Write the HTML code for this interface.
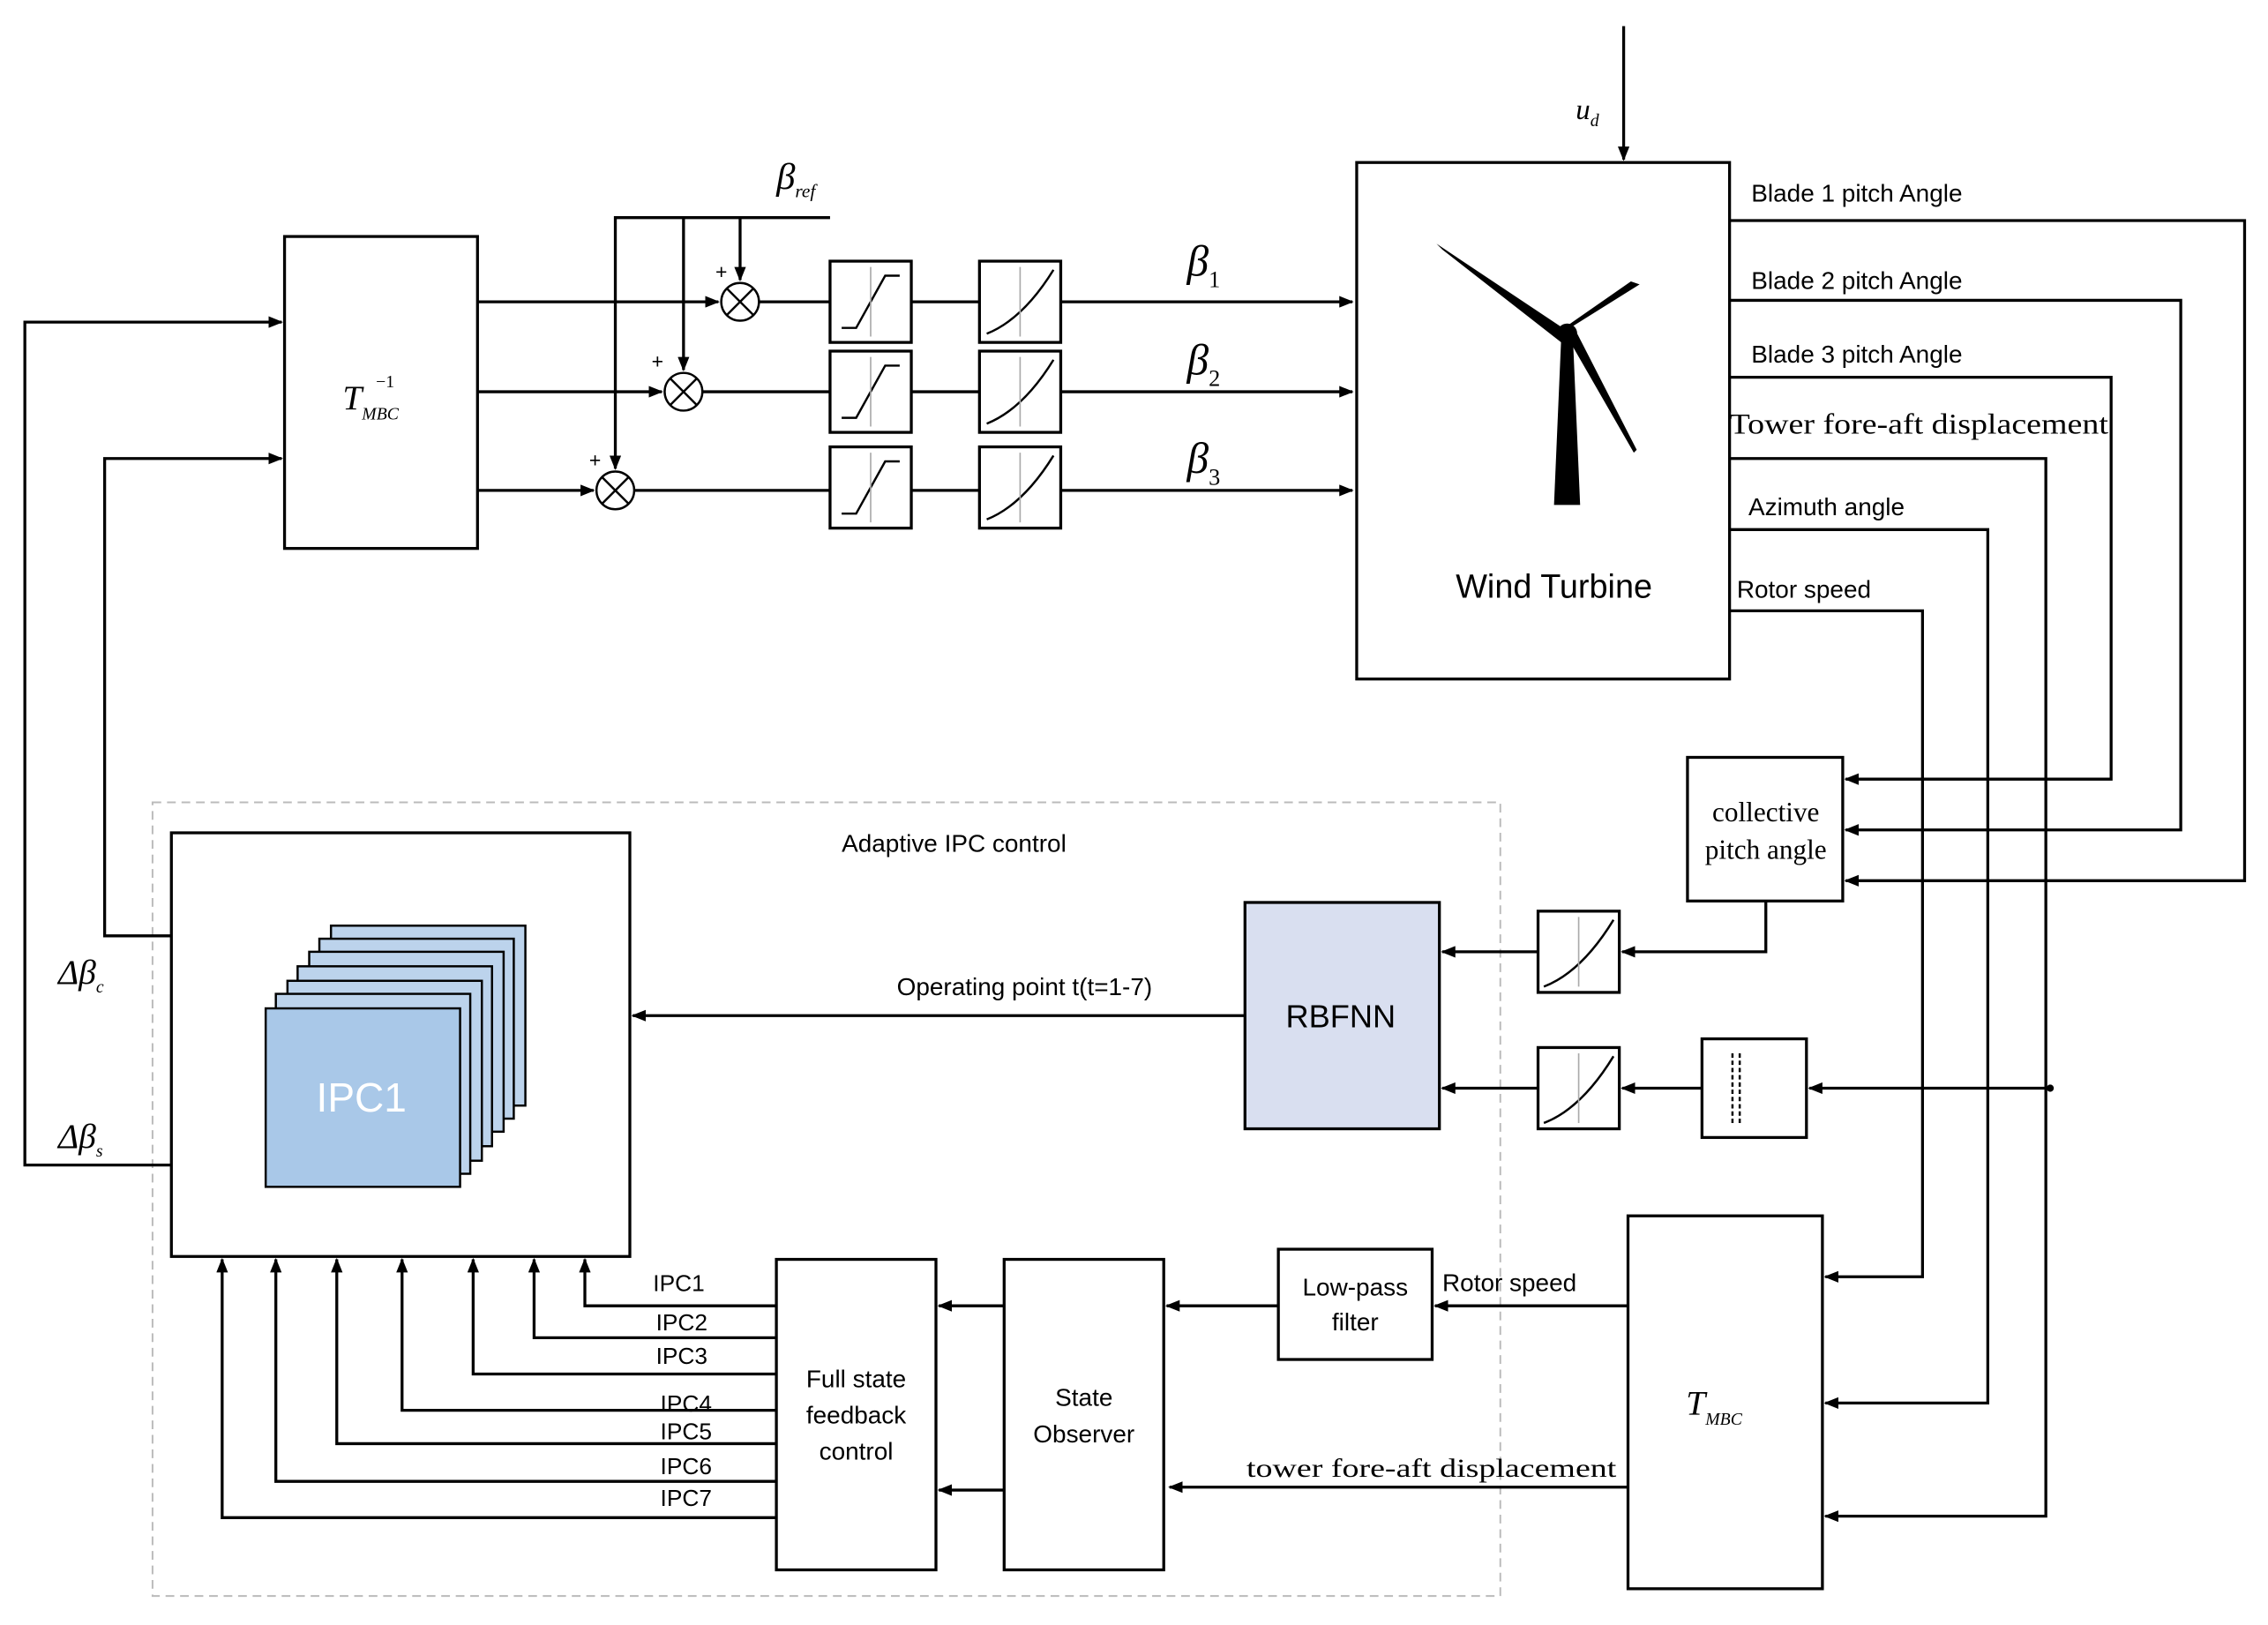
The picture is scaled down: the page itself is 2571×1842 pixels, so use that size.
<!DOCTYPE html>
<html><head><meta charset="utf-8"><style>html,body{margin:0;padding:0;background:#fff}svg{display:block}</style></head><body>
<svg width="2571" height="1842" viewBox="0 0 1563 1120" xmlns="http://www.w3.org/2000/svg" font-family="Liberation Sans, sans-serif">
<defs><marker id="a" markerWidth="10" markerHeight="8" refX="9" refY="4" orient="auto" markerUnits="userSpaceOnUse"><path d="M0,0 L10,4 L0,8 z" fill="#000"/></marker></defs>
<g fill="none" stroke="#000" stroke-width="2">
<rect x="935" y="112" width="257" height="356"/>
<rect x="196" y="163" width="133" height="215"/>
<rect x="1163" y="522" width="107" height="99"/>
<rect x="858" y="622" width="134" height="156" fill="#d9dff0"/>
<rect x="118" y="574" width="316" height="292"/>
<rect x="1122" y="838" width="134" height="257"/>
<rect x="881" y="861" width="106" height="76"/>
<rect x="692" y="868" width="110" height="214"/>
<rect x="535" y="868" width="110" height="214"/>
<rect x="1060" y="628" width="56" height="56"/>
<rect x="1060" y="722" width="56" height="56"/>
<rect x="1173" y="716" width="72" height="68"/>
<rect x="572" y="180" width="56" height="56"/><rect x="572" y="242" width="56" height="56"/><rect x="572" y="308" width="56" height="56"/>
<rect x="675" y="180" width="56" height="56"/><rect x="675" y="242" width="56" height="56"/><rect x="675" y="308" width="56" height="56"/>
</g>
<rect x="105" y="553" width="929" height="547" fill="none" stroke="#bbb" stroke-width="1.2" stroke-dasharray="6,4"/>
<g fill="none" stroke="#000" stroke-width="1.5">
<path d="M580,226 H590 L610,190 H620 M580,288 H590 L610,252 H620 M580,354 H590 L610,318 H620"/>
<path d="M680,230 Q705,220 726,186 M680,292 Q705,282 726,248 M680,358 Q705,348 726,314"/>
<path d="M1064,680 Q1090,670 1112,634 M1064,774 Q1090,764 1112,728"/>
<path d="M1194,726 V774 M1199,726 V774" stroke-dasharray="3,2"/>
</g>
<g stroke="#aaa" stroke-width="1"><path d="M600,184 V232 M600,246 V294 M600,312 V360 M703,184 V232 M703,246 V294 M703,312 V360 M1088,632 V680 M1088,726 V774"/></g>
<g fill="none" stroke="#000" stroke-width="2">
<path d="M1119,18 V110" marker-end="url(#a)"/>
<path d="M1192,152 H1547 V607 H1272" marker-end="url(#a)"/>
<path d="M1192,207 H1503 V572 H1272" marker-end="url(#a)"/>
<path d="M1192,260 H1455 V537 H1272" marker-end="url(#a)"/>
<path d="M1192,316 H1410 V1045 H1258" marker-end="url(#a)"/>
<path d="M1192,365 H1370 V967 H1258" marker-end="url(#a)"/>
<path d="M1192,421 H1325 V880 H1258" marker-end="url(#a)"/>
<path d="M1217,621 V656 H1118" marker-end="url(#a)"/>
<path d="M1060,656 H994" marker-end="url(#a)"/>
<path d="M1413,750 H1247" marker-end="url(#a)"/>
<path d="M1173,750 H1118" marker-end="url(#a)"/>
<path d="M1060,750 H994" marker-end="url(#a)"/>
<path d="M858,700 H436" marker-end="url(#a)"/>
<path d="M118,645 H72 V316 H194" marker-end="url(#a)"/>
<path d="M118,803 H17 V222 H194" marker-end="url(#a)"/>
<path d="M329,208 H495" marker-end="url(#a)"/>
<path d="M329,270 H456" marker-end="url(#a)"/>
<path d="M329,338 H409" marker-end="url(#a)"/>
<path d="M572,150 H424 V323" marker-end="url(#a)"/>
<path d="M471,150 V255" marker-end="url(#a)"/>
<path d="M510,150 V193" marker-end="url(#a)"/>
<path d="M523,208 H572 M484,270 H572 M437,338 H572 M628,208 H675 M628,270 H675 M628,338 H675"/>
<path d="M731,208 H932" marker-end="url(#a)"/>
<path d="M731,270 H932" marker-end="url(#a)"/>
<path d="M731,338 H932" marker-end="url(#a)"/>
<path d="M1122,900 H989" marker-end="url(#a)"/>
<path d="M881,900 H804" marker-end="url(#a)"/>
<path d="M1122,1025 H806" marker-end="url(#a)"/>
<path d="M692,900 H647" marker-end="url(#a)"/>
<path d="M692,1027 H647" marker-end="url(#a)"/>
<path d="M535,900 H403 V868" marker-end="url(#a)"/>
<path d="M535,922 H368 V868" marker-end="url(#a)"/>
<path d="M535,947 H326 V868" marker-end="url(#a)"/>
<path d="M535,972 H277 V868" marker-end="url(#a)"/>
<path d="M535,995 H232 V868" marker-end="url(#a)"/>
<path d="M535,1021 H190 V868" marker-end="url(#a)"/>
<path d="M535,1046 H153 V868" marker-end="url(#a)"/>
</g>
<circle cx="1413" cy="750" r="2.5"/>
<g fill="#fff" stroke="#000" stroke-width="1.5">
<circle cx="510" cy="208" r="13"/><circle cx="471" cy="270" r="13"/><circle cx="424" cy="338" r="13"/>
</g>
<g stroke="#000" stroke-width="1.5"><path d="M501,199 L519,217 M519,199 L501,217 M462,261 L480,279 M480,261 L462,279 M415,329 L433,347 M433,329 L415,347"/></g>
<g fill="#bcd3ec" stroke="#000" stroke-width="1.5">
<rect x="228" y="638" width="134" height="124"/><rect x="220" y="647" width="134" height="124"/><rect x="213" y="656" width="134" height="124"/><rect x="205" y="666" width="134" height="124"/><rect x="198" y="676" width="134" height="124"/><rect x="190" y="685" width="134" height="124"/>
<rect x="183" y="695" width="134" height="123" fill="#a9c8e8"/>
</g>
<text x="249" y="766" font-size="28" fill="#fff" text-anchor="middle">IPC1</text>
<path d="M1076,232 L1084,232 L1089,348 L1071,348 Z" fill="#000"/>
<g fill="#000"><path d="M1080,228 L990,168 L994,172 L1076,236 Z"/><path d="M1082,226 L1130,196 L1124,194 L1078,226 Z"/><path d="M1080,232 L1126,312 L1128,310 L1086,228 Z"/><circle cx="1080" cy="230" r="7"/></g>
<g font-size="17" fill="#000">
<text x="1207" y="139">Blade 1 pitch Angle</text>
<text x="1207" y="199">Blade 2 pitch Angle</text>
<text x="1207" y="250">Blade 3 pitch Angle</text>
<text x="1192" y="299" font-family="Liberation Serif, serif" font-size="20" textLength="261" lengthAdjust="spacingAndGlyphs">Tower fore-aft displacement</text>
<text x="1205" y="355">Azimuth angle</text>
<text x="1197" y="412">Rotor speed</text>
<text x="580" y="587">Adaptive IPC control</text>
<text x="618" y="686">Operating point t(t=1-7)</text>
<text x="994" y="890">Rotor speed</text>
<text x="859" y="1018" font-family="Liberation Serif, serif" font-size="18" textLength="255" lengthAdjust="spacingAndGlyphs">tower fore-aft displacement</text>
<text x="934" y="893" text-anchor="middle">Low-pass</text><text x="934" y="917" text-anchor="middle">filter</text>
<text x="747" y="969" text-anchor="middle">State</text><text x="747" y="994" text-anchor="middle">Observer</text>
<text x="590" y="956" text-anchor="middle">Full state</text><text x="590" y="981" text-anchor="middle">feedback</text><text x="590" y="1006" text-anchor="middle">control</text>
<text x="450" y="890" font-size="16">IPC1</text><text x="452" y="917" font-size="16">IPC2</text><text x="452" y="940" font-size="16">IPC3</text><text x="455" y="973" font-size="16">IPC4</text><text x="455" y="992" font-size="16">IPC5</text><text x="455" y="1016" font-size="16">IPC6</text><text x="455" y="1038" font-size="16">IPC7</text>
</g>
<text x="1071" y="412" font-size="23" text-anchor="middle">Wind Turbine</text>
<text x="924" y="708" font-size="22" text-anchor="middle">RBFNN</text>
<g font-family="Liberation Serif, serif" font-size="19" text-anchor="middle"><text x="1217" y="566">collective</text><text x="1217" y="592">pitch angle</text></g>
<g font-family="Liberation Serif, serif" font-style="italic" fill="#000">
<text x="1086" y="82" font-size="20">u<tspan font-size="12" dy="5">d</tspan></text>
<text x="535" y="130" font-size="26">β<tspan font-size="13" dy="6">ref</tspan></text>
<text x="818" y="190" font-size="30">β<tspan font-size="16" dy="8" font-style="normal">1</tspan></text>
<text x="818" y="258" font-size="30">β<tspan font-size="16" dy="8" font-style="normal">2</tspan></text>
<text x="818" y="326" font-size="30">β<tspan font-size="16" dy="8" font-style="normal">3</tspan></text>
<text x="236" y="282" font-size="24">T<tspan font-size="12" dy="7">MBC</tspan></text><text x="259" y="267" font-size="12" font-style="normal">−1</text>
<text x="1162" y="975" font-size="24">T<tspan font-size="12" dy="7">MBC</tspan></text>
<text x="40" y="678" font-size="24">Δβ<tspan font-size="12" dy="6">c</tspan></text>
<text x="40" y="791" font-size="24">Δβ<tspan font-size="12" dy="6">s</tspan></text>
</g>
<g font-size="14"><text x="493" y="192">+</text><text x="449" y="254">+</text><text x="406" y="322">+</text></g>
</svg>
</body></html>
